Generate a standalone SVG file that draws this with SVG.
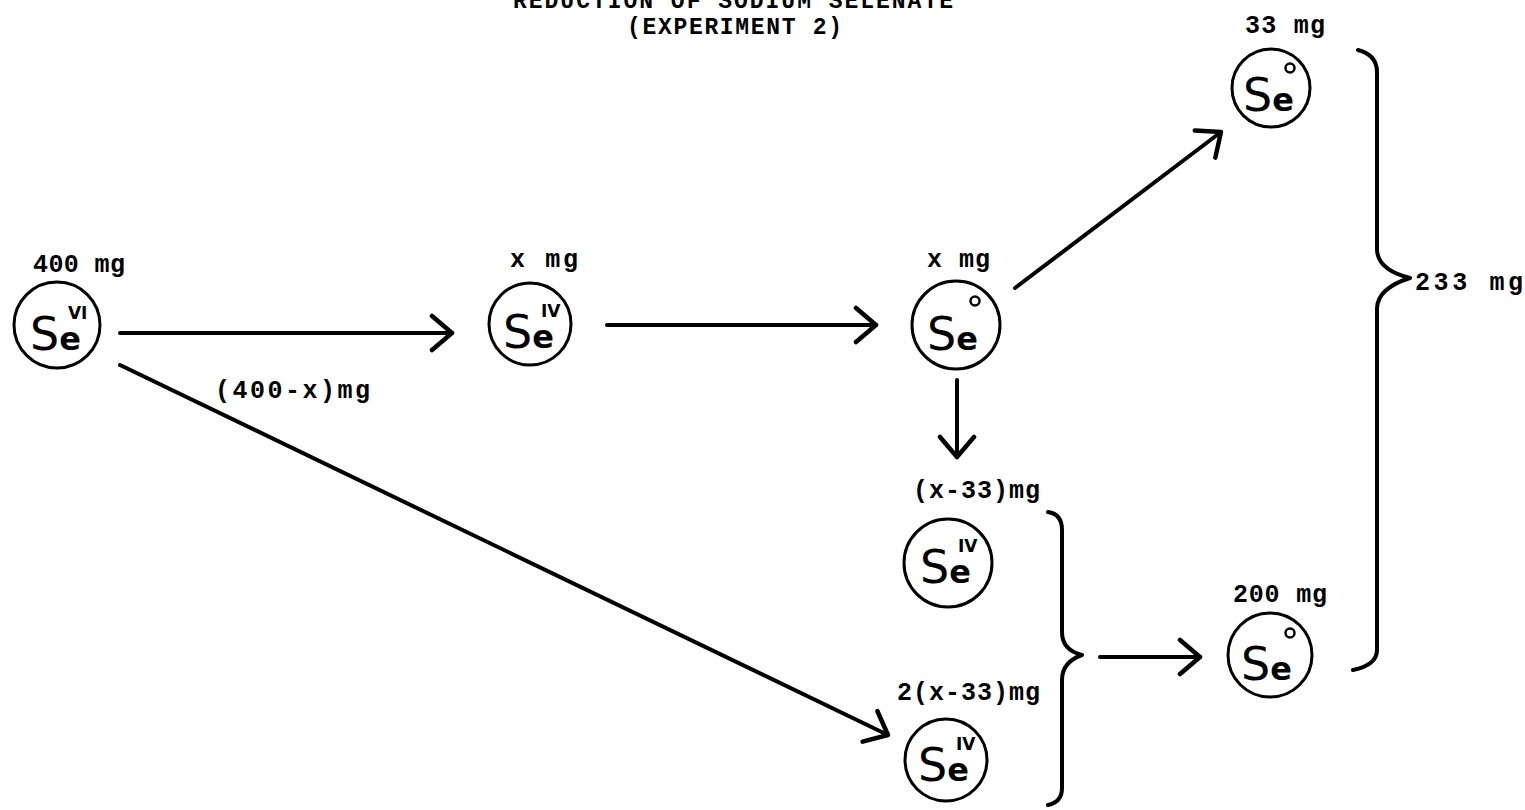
<svg xmlns="http://www.w3.org/2000/svg" width="1525" height="810" viewBox="0 0 1525 810">
<defs>
<style>
.lbl{font-family:"Liberation Mono","Courier New",monospace;font-size:25px;font-weight:bold;fill:#000}
.ttl{font-family:"Liberation Mono","Courier New",monospace;font-size:23px;font-weight:bold;fill:#000}
.ring{fill:none;stroke:#000;stroke-width:3}
.se{font-family:"DejaVu Sans","Liberation Sans",sans-serif;fill:#000}
.S{font-size:46px}
.e{font-size:32px;font-weight:bold}
.sup{font-size:17px;font-weight:bold}
.deg{fill:none;stroke:#000;stroke-width:2.5}
.ln{fill:none;stroke:#000;stroke-width:4;stroke-linecap:round}
.br{fill:none;stroke:#000;stroke-width:4;stroke-linecap:round;stroke-linejoin:round}
</style>
<marker id="ah" viewBox="-24 -20 28 40" refX="0" refY="0" markerWidth="28" markerHeight="40" markerUnits="userSpaceOnUse" orient="auto">
<path d="M-20,-17 L0,0 L-20,17" fill="none" stroke="#000" stroke-width="4.5" stroke-linecap="round" stroke-linejoin="round"/>
</marker>
</defs>
<rect width="1525" height="810" fill="#fff"/>

<g id="title">
<text class="ttl" x="513" y="8" textLength="440" lengthAdjust="spacing">REDUCTION OF SODIUM SELENATE</text>
<text class="ttl" x="627" y="34" textLength="215" lengthAdjust="spacing">(EXPERIMENT 2)</text>
</g>

<g id="connectors">
<line class="ln" x1="120" y1="333" x2="452" y2="333" marker-end="url(#ah)"/>
<line class="ln" x1="607" y1="325" x2="876" y2="325" marker-end="url(#ah)"/>
<line class="ln" x1="1015" y1="288" x2="1221" y2="132" marker-end="url(#ah)"/>
<line class="ln" x1="957" y1="380" x2="957" y2="457" marker-end="url(#ah)"/>
<line class="ln" x1="120" y1="365" x2="888" y2="735" marker-end="url(#ah)"/>
<line class="ln" x1="1100" y1="657" x2="1200" y2="657" marker-end="url(#ah)"/>
<text class="lbl" x="215" y="398" textLength="155" lengthAdjust="spacing">(400-x)mg</text>
</g>

<g id="n1">
<text class="lbl" x="33" y="272" textLength="92" lengthAdjust="spacing">400 mg</text>
<circle class="ring" cx="57" cy="325" r="43"/>
<text class="se" x="30" y="350"><tspan class="S">S</tspan><tspan class="e">e</tspan><tspan class="sup" dx="-13" dy="-31">VI</tspan></text>
</g>

<g id="n2">
<text class="lbl" x="510" y="267" textLength="68" lengthAdjust="spacing">x mg</text>
<circle class="ring" cx="530" cy="324" r="41"/>
<text class="se" x="503" y="348"><tspan class="S">S</tspan><tspan class="e">e</tspan><tspan class="sup" dx="-13" dy="-31">IV</tspan></text>
</g>

<g id="n3">
<text class="lbl" x="927" y="267" textLength="63" lengthAdjust="spacing">x mg</text>
<circle class="ring" cx="956" cy="325" r="44"/>
<text class="se" x="927" y="350"><tspan class="S">S</tspan><tspan class="e">e</tspan></text>
<circle class="deg" cx="975" cy="301" r="4.5"/>
</g>

<g id="n4">
<text class="lbl" x="1245" y="33" textLength="80" lengthAdjust="spacing">33 mg</text>
<circle class="ring" cx="1271" cy="88" r="39"/>
<text class="se" x="1243" y="111"><tspan class="S">S</tspan><tspan class="e">e</tspan></text>
<circle class="deg" cx="1290" cy="68" r="4.5"/>
</g>

<g id="n5">
<text class="lbl" x="913" y="498" textLength="127" lengthAdjust="spacing">(x-33)mg</text>
<circle class="ring" cx="948" cy="563" r="44"/>
<text class="se" x="920" y="583"><tspan class="S">S</tspan><tspan class="e">e</tspan><tspan class="sup" dx="-13" dy="-31">IV</tspan></text>
</g>

<g id="n6">
<text class="lbl" x="897" y="700" textLength="143" lengthAdjust="spacing">2(x-33)mg</text>
<circle class="ring" cx="946" cy="760" r="41"/>
<text class="se" x="918" y="781"><tspan class="S">S</tspan><tspan class="e">e</tspan><tspan class="sup" dx="-13" dy="-31">IV</tspan></text>
</g>

<g id="n7">
<text class="lbl" x="1233" y="602" textLength="94" lengthAdjust="spacing">200 mg</text>
<circle class="ring" cx="1270" cy="655" r="42"/>
<text class="se" x="1241" y="680"><tspan class="S">S</tspan><tspan class="e">e</tspan></text>
<circle class="deg" cx="1290" cy="633" r="4.5"/>
</g>

<g id="brace-small">
<path class="br" d="M1048,512 Q1062,514 1062,530 L1062,632 Q1062,650 1082,655 Q1062,662 1062,680 L1062,788 Q1062,802 1048,805"/>
</g>

<g id="brace-big">
<path class="br" d="M1358,50 Q1377,55 1377,72 L1377,250 Q1378,270 1410,278 Q1378,288 1377,308 L1377,650 Q1377,665 1353,670"/>
<text class="lbl" x="1415" y="290" textLength="108" lengthAdjust="spacing">233 mg</text>
</g>
</svg>
